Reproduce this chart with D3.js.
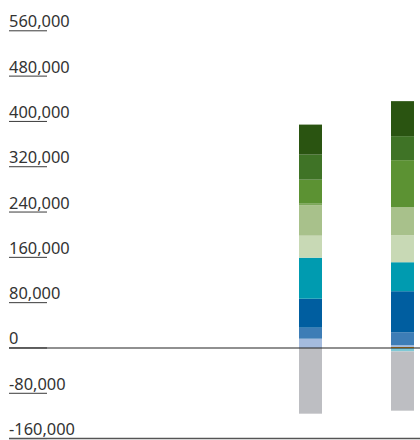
<!DOCTYPE html>
<html>
<head>
<meta charset="utf-8">
<script src="https://cdn.jsdelivr.net/npm/d3@7"></script>
<style>
  html, body { margin: 0; padding: 0; background: #fff; }
  svg { display: block; }
  .tick-label { font-family: "Noto Sans", "Open Sans", sans-serif; font-size: 16.4px; fill: #333; }
</style>
</head>
<body>
<svg id="chart" width="420" height="440"></svg>
<script>
// Two stacked columns, one per period
const categories = ["Period 1", "Period 2"];

// Series in stacking order (diverging stack: positives upward, negatives downward)
const seriesKeys = [
  "orange", "lightTeal", "lightBlue", "midBlue", "darkBlue", "teal",
  "paleGreen", "lightGreen", "softGreen", "green", "midGreen", "darkGreen", "grey"
];
const seriesColors = [
  "#e08a00", "#7fc9d6", "#a4bbde", "#3d7db6", "#005ea0", "#009bb0",
  "#c8d9b5", "#a8c18b", "#7da85a", "#5c9233", "#3f7326", "#2a5411", "#bdbec2"
];

// Values per series, one entry per category
const orange     = [0, 1800];
const lightTeal  = [0, -6000];
const lightBlue  = [16400, 3000];
const midBlue    = [19400, 23000];
const darkBlue   = [51200, 72400];
const teal       = [72400, 51200];
const paleGreen  = [38900, 47700];
const lightGreen = [53900, 49500];
const softGreen  = [2600, 0];
const green      = [42400, 83000];
const midGreen   = [44200, 42400];
const darkGreen  = [53000, 61800];
const grey       = [-116000, -104700];

const tickValues = [-160000, -80000, 0, 80000, 160000, 240000, 320000, 400000, 480000, 560000];

const seriesValues = [orange, lightTeal, lightBlue, midBlue, darkBlue, teal,
  paleGreen, lightGreen, softGreen, green, midGreen, darkGreen, grey];

// Row table built for d3.stack
const rows = categories.map((c, i) => {
  const r = { category: c };
  seriesKeys.forEach((k, j) => { r[k] = seriesValues[j][i]; });
  return r;
});

const svg = d3.select("#chart");

const y = d3.scaleLinear().domain([-160000, 560000]).range([438.6, 30.8]);
const x = d3.scaleBand().domain(categories)
  .range([287.5, 425.5]).paddingInner(0.75).paddingOuter(0.125);

const color = d3.scaleOrdinal().domain(seriesKeys).range(seriesColors);

const stacked = d3.stack().keys(seriesKeys).offset(d3.stackOffsetDiverging)(rows);

// Bars
svg.append("g").selectAll("g")
  .data(stacked)
  .join("g")
  .attr("fill", d => color(d.key))
  .selectAll("rect")
  .data(d => d)
  .join("rect")
  .attr("x", d => x(d.data.category))
  .attr("width", x.bandwidth())
  .attr("y", d => y(Math.max(d[0], d[1])))
  .attr("height", d => Math.abs(y(d[0]) - y(d[1])));

// Value axis: left-aligned labels, each sitting on a short rule (plain hyphen for negatives)
const fmt = d3.formatLocale({ decimal: ".", thousands: ",", grouping: [3], currency: ["", ""], minus: "-" }).format(",");
const ticks = svg.append("g").selectAll("g")
  .data(tickValues)
  .join("g")
  .attr("transform", d => `translate(0,${y(d)})`);

ticks.append("line")
  .attr("x1", 9).attr("x2", 47)
  .attr("stroke", "#3a3a3a").attr("stroke-width", 1);

ticks.append("text")
  .attr("class", "tick-label")
  .attr("x", 9).attr("y", -3.5)
  .text(d => fmt(d));

// Baseline at zero and bottom rule
svg.append("line")
  .attr("x1", 9).attr("x2", 420)
  .attr("y1", y(0)).attr("y2", y(0))
  .attr("stroke", "#222").attr("stroke-width", 1.2);

svg.append("line")
  .attr("x1", 9).attr("x2", 420)
  .attr("y1", y(-160000)).attr("y2", y(-160000))
  .attr("stroke", "#555").attr("stroke-width", 1.5);
</script>
</body>
</html>
